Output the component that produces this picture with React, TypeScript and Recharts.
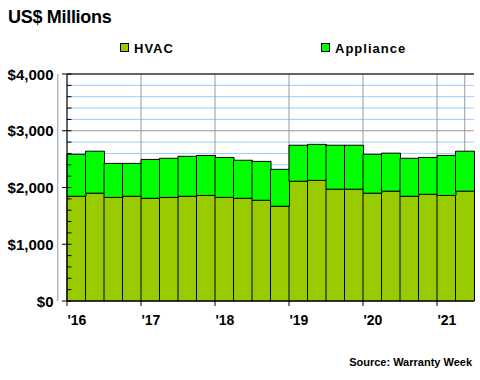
import {
  BarChart,
  Bar,
  XAxis,
  YAxis,
  CartesianGrid,
  ReferenceLine,
  Legend,
} from "recharts";

// quarterly warranty claims, Q1 2016 .. Q2 2021
const quarters = [
  "2016 Q1", "2016 Q2", "2016 Q3", "2016 Q4",
  "2017 Q1", "2017 Q2", "2017 Q3", "2017 Q4",
  "2018 Q1", "2018 Q2", "2018 Q3", "2018 Q4",
  "2019 Q1", "2019 Q2", "2019 Q3", "2019 Q4",
  "2020 Q1", "2020 Q2", "2020 Q3", "2020 Q4",
  "2021 Q1", "2021 Q2",
];
const hvac = [
  1845, 1900, 1825, 1845,
  1810, 1825, 1845, 1860,
  1825, 1810, 1775, 1670,
  2110, 2125, 1970, 1970,
  1900, 1935, 1845, 1880,
  1860, 1935,
];
const appliance = [
  740, 740, 600, 580,
  685, 690, 705, 705,
  705, 670, 685, 650,
  635, 635, 775, 775,
  685, 670, 670, 650,
  705, 705,
];
const yearTicks = ["2016 Q1", "2017 Q1", "2018 Q1", "2019 Q1", "2020 Q1", "2021 Q1"];
const yearLabels = ["'16", "'17", "'18", "'19", "'20", "'21"];
const valueTicks = [
  0, 200, 400, 600, 800, 1000, 1200, 1400, 1600, 1800, 2000,
  2200, 2400, 2600, 2800, 3000, 3200, 3400, 3600, 3800, 4000,
];
const seriesOrder = ["hvac", "appliance"];

const data = quarters.map((q, i) => ({ quarter: q, hvac: hvac[i], appliance: appliance[i] }));

const FONT = '"Liberation Sans", Arial, sans-serif';

const YTick = (props: any) => {
  const { x, y, payload } = props;
  const major = payload.value % 1000 === 0;
  return (
    <g>
      <line x1={major ? x - 5 : x} x2={x + 4.5} y1={y} y2={y} stroke="#000" />
      {major && (
        <text
          x={x - 13.5}
          y={y + 5.5}
          textAnchor="end"
          fontFamily={FONT}
          fontWeight="bold"
          fontSize={15}
          fill="#000"
        >
          {"$" + payload.value.toLocaleString("en-US")}
        </text>
      )}
    </g>
  );
};

// year ticks sit on the left edge of each Q1 bar, not its centre
const XTick = (props: any) => {
  const { x, y, index, payload, width } = props;
  const half = payload && payload.offset ? payload.offset : width / quarters.length / 2;
  const left = x - half;
  return (
    <g>
      <line x1={left} x2={left} y1={y - 5} y2={y} stroke="#000" />
      <text x={left + 0.5} y={y + 18.5} textAnchor="start" fontFamily={FONT} fontWeight="bold" fontSize={14} fill="#000">
        {yearLabels[index]}
      </text>
    </g>
  );
};

const hLine = (props: any) => {
  const { x1, x2, y1, y2, index } = props;
  const major = index % 5 === 0;
  return (
    <line
      key={"h" + index}
      x1={x1}
      x2={x2}
      y1={y1}
      y2={y2}
      stroke={major ? "#999999" : "#99ccff"}
      strokeWidth={1}
    />
  );
};

const vLine = (props: any) => {
  const { x1, y1, y2, index, width } = props;
  const left = x1 - width / quarters.length / 2;
  return <line key={"v" + index} x1={left} x2={left} y1={y1} y2={y2} stroke="#999999" strokeWidth={1} />;
};

const renderLegend = (props: any) => {
  const items = [...props.payload].sort(
    (a: any, b: any) => seriesOrder.indexOf(a.dataKey) - seriesOrder.indexOf(b.dataKey)
  );
  const spots = [120, 321];
  return (
    <div style={{ position: "relative", width: 480, height: 60 }}>
      {items.map((p: any, i: number) => (
        <div key={p.value} style={{ position: "absolute", left: spots[i], top: 0 }}>
          <span
            style={{
              position: "absolute",
              left: 0,
              top: 43,
              width: 7,
              height: 7,
              background: p.color,
              border: "1px solid #000",
            }}
          />
          <span
            style={{
              position: "absolute",
              left: 14,
              top: 41.7,
              fontFamily: FONT,
              fontWeight: "bold",
              fontSize: 13,
              lineHeight: "13px",
              letterSpacing: 1,
              whiteSpace: "nowrap",
              color: "#000",
            }}
          >
            {p.value}
          </span>
        </div>
      ))}
    </div>
  );
};

export default function App() {
  return (
    <div
      style={{
        position: "absolute",
        left: 0,
        top: 0,
        width: 480,
        height: 380,
        background: "#fff",
        fontFamily: FONT,
      }}
    >
      <div
        style={{
          position: "absolute",
          left: 8,
          top: 8,
          fontSize: 18,
          lineHeight: "18px",
          fontWeight: "bold",
          letterSpacing: -0.3,
          color: "#000",
        }}
      >
        US$ Millions
      </div>
      <BarChart
        width={480}
        height={380}
        data={data}
        margin={{ top: 74, right: 6, bottom: 49, left: 0 }}
        barCategoryGap={0}
        barGap={0}
      >
        <CartesianGrid horizontal={hLine} vertical={vLine} />
        <XAxis
          dataKey="quarter"
          ticks={yearTicks}
          interval={0}
          axisLine={{ stroke: "#000" }}
          tickLine={false}
          tickSize={5}
          tickMargin={0}
          tick={<XTick />}
          height={30}
        />
        <YAxis
          domain={[0, 4000]}
          ticks={valueTicks}
          interval={0}
          width={67}
          axisLine={{ stroke: "#000" }}
          tickLine={false}
          tickSize={0}
          tickMargin={0}
          tick={<YTick />}
        />
        <YAxis
          yAxisId="border"
          orientation="right"
          domain={[0, 4000]}
          width={0}
          tick={false}
          tickLine={false}
          axisLine={{ stroke: "#000" }}
        />
        <Legend
          content={renderLegend}
          layout="vertical"
          align="center"
          verticalAlign="middle"
          wrapperStyle={{ position: "absolute", top: 0, left: 0, width: 480, height: 60 }}
        />
        <Bar
          dataKey="hvac"
          name="HVAC"
          stackId="a"
          fill="#99cc00"
          stroke="#000"
          strokeWidth={1}
          isAnimationActive={false}
        />
        <Bar
          dataKey="appliance"
          name="Appliance"
          stackId="a"
          fill="#00ff00"
          stroke="#000"
          strokeWidth={1}
          isAnimationActive={false}
        />
        <ReferenceLine y={4000} stroke="#000" />
      </BarChart>
      <div
        style={{
          position: "absolute",
          right: 8,
          top: 356.7,
          fontSize: 11,
          lineHeight: "11px",
          fontWeight: "bold",
          color: "#000",
          whiteSpace: "nowrap",
        }}
      >
        Source: Warranty Week
      </div>
    </div>
  );
}
